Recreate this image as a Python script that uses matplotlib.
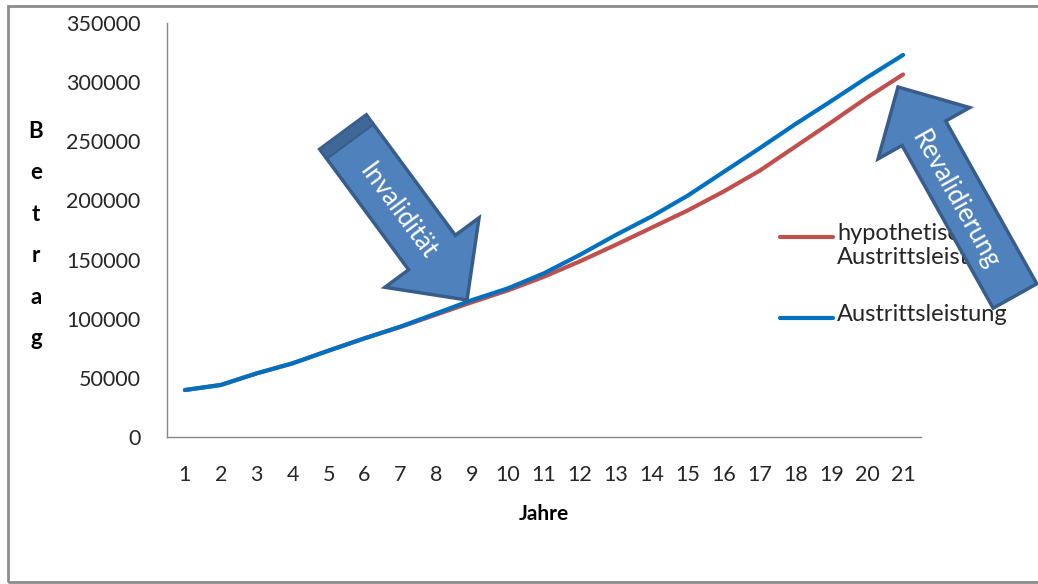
import matplotlib
matplotlib.use("Agg")
import matplotlib.pyplot as plt
import numpy as np
from matplotlib.patches import Polygon, Rectangle
from matplotlib.lines import Line2D
from matplotlib.transforms import IdentityTransform

# ---- data ----
years = list(range(1, 22))
hypothetisch = [39700, 44000, 53800, 62300, 73000, 83400, 93000, 103500, 114000, 124000,
                135500, 148500, 162500, 177000, 191500, 207500, 225000, 245500, 266000, 287000, 306500]
austritt = [39700, 44000, 53800, 62300, 73000, 83400, 93300, 104500, 115800, 125700,
            138400, 154000, 170800, 186500, 204000, 224000, 244000, 264500, 284000, 304000, 323000]
y_ticks = [0, 50000, 100000, 150000, 200000, 250000, 300000, 350000]
series_labels = ["hypothetische\nAustrittsleistung", "Austrittsleistung"]
arrow_labels = ["Invalidität", "Revalidierung"]

RED = "#C0504D"
BLUE = "#0070C0"
ARROW_FILL = "#4F81BD"
ARROW_EDGE = "#385D8A"
TXT = "#262626"
FONT = "Lato"

W, H = 1038, 584
fig = plt.figure(figsize=(W / 100, H / 100), dpi=100)
plt.rcParams['font.family'] = [FONT, 'DejaVu Sans']

# outer chart frame
fig.add_artist(Rectangle((8 / W, 2 / H), 1.2, (580 - 4) / H, transform=fig.transFigure,
                         fill=False, edgecolor="#8C8C8C", linewidth=2))

ax = fig.add_axes([167 / W, (H - 437) / H, (921 - 167) / W, (437 - 23) / H])
ax.plot(years, hypothetisch, color=RED, linewidth=3, solid_capstyle="round", zorder=3)
ax.plot(years, austritt, color=BLUE, linewidth=3, solid_capstyle="round", zorder=4)

ax.set_xlim(0.5, 21.5)
ax.set_ylim(0, 350000)
ax.set_xticks(years)
ax.set_xticklabels([str(y) for y in years])
ax.set_yticks(y_ticks)
ax.set_yticklabels([str(v) for v in y_ticks])
ax.tick_params(axis="both", length=0, labelsize=15.5, labelcolor=TXT)
ax.tick_params(axis="y", pad=19)
ax.tick_params(axis="x", pad=20)
for s in ["top", "right"]:
    ax.spines[s].set_visible(False)
for s in ["left", "bottom"]:
    ax.spines[s].set_color("#868686")
    ax.spines[s].set_linewidth(1)

ax.set_xlabel("Jahre", fontsize=15, fontweight="bold", color="black")
ax.xaxis.set_label_coords(0.5, (437 - 514) / 414)
ax.xaxis.label.set_va("center")
ax.set_ylabel("B\ne\nt\nr\na\ng", rotation=0, fontsize=16, fontweight="bold",
              color="black", linespacing=2.2)
ax.yaxis.set_label_coords((36 - 167) / 754, (437 - 235) / 414)
ax.yaxis.label.set_va("center")
ax.yaxis.label.set_ha("center")

# legend (drawn manually so the handle sits on the first text line)
def px(x, y):
    return x / W, (H - y) / H

for (ly, col, lab) in [(237, RED, series_labels[0]), (318, BLUE, series_labels[1])]:
    x0, y0 = px(780, ly)
    x1, _ = px(833, ly)
    fig.add_artist(Line2D([x0, x1], [y0, y0], transform=fig.transFigure, color=col,
                          linewidth=3, solid_capstyle="round", zorder=5))
    tx, ty = px(837, ly - 14)
    fig.text(tx, ty, lab, fontsize=17, color=TXT, ha="left", va="top",
             linespacing=1.15, zorder=5)

# block arrows
def block_arrow(tail, tip, w, hw, hl, label, rot_text_center, cap=False):
    t = np.array(tail, float)
    p = np.array(tip, float)
    L = np.linalg.norm(p - t)
    u = (p - t) / L
    n = np.array([-u[1], u[0]])
    b = p - u * hl
    pts = [t + n * w / 2, b + n * w / 2, b + n * hw / 2, p,
           b - n * hw / 2, b - n * w / 2, t - n * w / 2]
    disp = [(q[0], H - q[1]) for q in pts]
    poly = Polygon(disp, closed=True, facecolor=ARROW_FILL, edgecolor=ARROW_EDGE,
                   linewidth=2.5, transform=IdentityTransform(), zorder=10,
                   joinstyle="miter")
    fig.add_artist(poly)
    if cap:
        cpts = [t + n * w / 2, t + n * w / 2 + u * 12, t - n * w / 2 + u * 12, t - n * w / 2]
        cdisp = [(q[0], H - q[1]) for q in cpts]
        fig.add_artist(Polygon(cdisp, closed=True, facecolor="#3F6899", edgecolor=ARROW_EDGE,
                               linewidth=1.5, transform=IdentityTransform(), zorder=11))
    ang = -np.degrees(np.arctan2(u[1], u[0]))
    if ang < -90:
        ang += 180
    if ang > 90:
        ang -= 180
    cx, cy = rot_text_center
    fig.text(cx / W, (H - cy) / H, label, rotation=ang, rotation_mode="anchor",
             ha="center", va="center", color="white", fontsize=18.5, zorder=12)

block_arrow((343, 132), (467, 300), 58, 117, 59, arrow_labels[0], (398, 212), cap=True)
block_arrow((1015, 296), (898, 87), 50, 105, 53, arrow_labels[1], (955, 200))

fig.savefig("out.png", dpi=100)
